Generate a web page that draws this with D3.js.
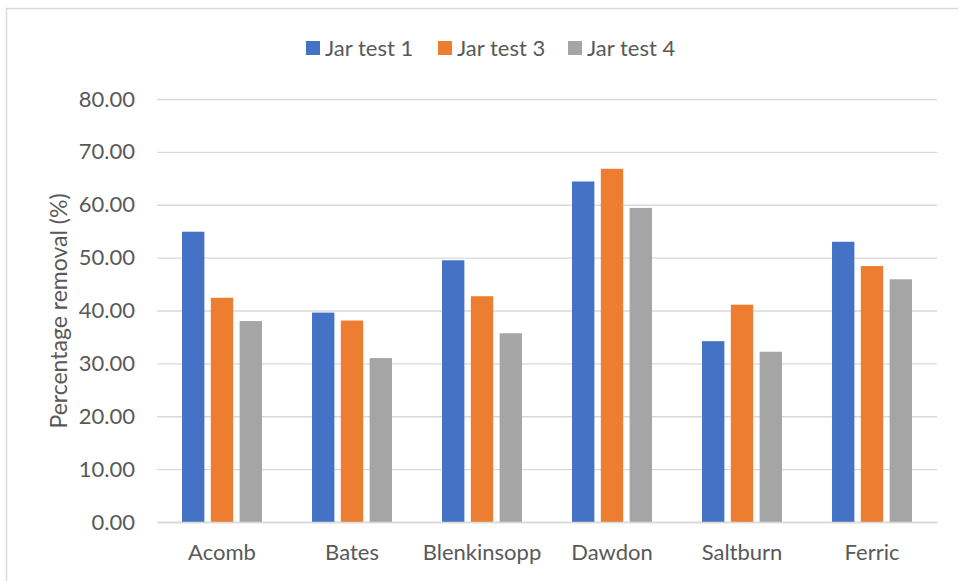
<!DOCTYPE html>
<html>
<head>
<meta charset="utf-8">
<script src="https://cdn.jsdelivr.net/npm/d3@7"></script>
<style>
  html, body { margin: 0; padding: 0; background: #fff; }
  svg { display: block; }
  text { font-family: Lato, "Open Sans", sans-serif; fill: #595959; }
</style>
</head>
<body>
<svg id="chart" width="958" height="581"></svg>
<script>
const categories = ["Acomb", "Bates", "Blenkinsopp", "Dawdon", "Saltburn", "Ferric"];
const seriesNames = ["Jar test 1", "Jar test 3", "Jar test 4"];
const jarTest1 = [54.9, 39.6, 49.5, 64.4, 34.2, 53.0];
const jarTest3 = [42.4, 38.1, 42.7, 66.8, 41.1, 48.4];
const jarTest4 = [38.0, 31.0, 35.7, 59.4, 32.2, 45.9];
const yTicks = [0, 10, 20, 30, 40, 50, 60, 70, 80];
const colors = ["#4472C4", "#ED7D31", "#A5A5A5"];
const yTitle = "Percentage removal (%)";

const seriesValues = [jarTest1, jarTest3, jarTest4];

const svg = d3.select("#chart");
const W = 958, H = 581;
const plot = { left: 157, right: 937, top: 99, bottom: 522 };

// chart border
svg.append("rect")
  .attr("x", 6.5).attr("y", 8.5)
  .attr("width", W + 10).attr("height", H + 10)
  .attr("fill", "none").attr("stroke", "#d9d9d9").attr("stroke-width", 1.5);

const y = d3.scaleLinear().domain([0, 80]).range([plot.bottom, plot.top]);
const x0 = d3.scaleBand().domain(categories).range([plot.left, plot.right])
  .paddingInner(0.385).paddingOuter(0.1925);
const x1 = d3.scaleBand().domain(seriesNames).range([0, x0.bandwidth()])
  .paddingInner(0.224).paddingOuter(0);

// gridlines
const yAxis = d3.axisLeft(y).tickValues(yTicks)
  .tickSize(-(plot.right - plot.left)).tickPadding(22)
  .tickFormat(d3.format(".2f"));
const gy = svg.append("g").attr("transform", `translate(${plot.left},0)`).call(yAxis);
gy.select(".domain").remove();
gy.selectAll(".tick line").attr("stroke", "#d9d9d9").attr("stroke-width", 1.3);
gy.selectAll(".tick text").attr("font-size", 22).attr("fill", "#595959")
  .style("font-family", "Lato, sans-serif");

// bars
const groups = svg.append("g").selectAll("g")
  .data(categories).join("g")
  .attr("transform", d => `translate(${x0(d)},0)`);
groups.selectAll("rect")
  .data((c, i) => seriesNames.map((s, j) => ({ s, v: seriesValues[j][i], j })))
  .join("rect")
  .attr("x", d => x1(d.s))
  .attr("width", x1.bandwidth())
  .attr("y", d => y(d.v))
  .attr("height", d => y(0) - y(d.v))
  .attr("fill", d => colors[d.j]);

// x axis
const xAxis = d3.axisBottom(x0).tickSize(0).tickPadding(22);
const gx = svg.append("g").attr("transform", `translate(0,${plot.bottom})`).call(xAxis);
gx.select(".domain").attr("stroke", "#d9d9d9").attr("stroke-width", 1.5);
gx.selectAll(".tick text").attr("font-size", 22).attr("fill", "#595959")
  .style("font-family", "Lato, sans-serif");

// y title
svg.append("text")
  .attr("transform", `translate(67,311) rotate(-90)`)
  .attr("text-anchor", "middle")
  .attr("font-size", 23)
  .text(yTitle);

// legend
const legendX = [306, 438, 568];
const legend = svg.append("g").selectAll("g").data(seriesNames).join("g")
  .attr("transform", (d, i) => `translate(${legendX[i]},41)`);
legend.append("rect").attr("width", 14).attr("height", 14)
  .attr("fill", (d, i) => colors[i]);
legend.append("text").attr("x", 19).attr("y", 14.5)
  .attr("font-size", 22).text(d => d);
</script>
</body>
</html>
